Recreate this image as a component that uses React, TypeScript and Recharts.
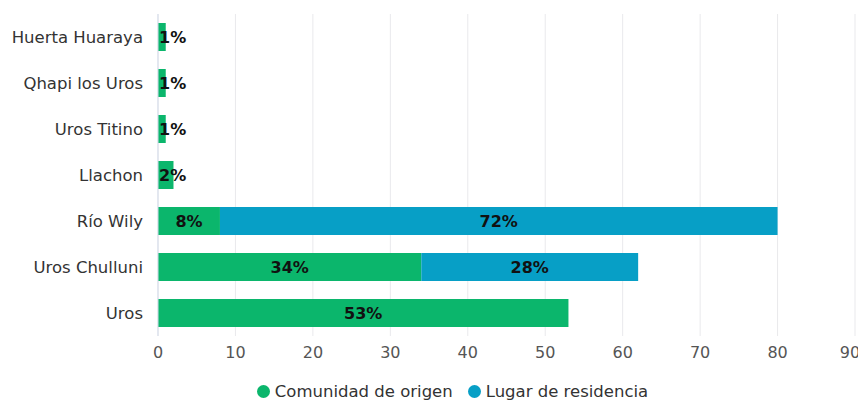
import { Bar, BarChart, CartesianGrid, LabelList, Legend, XAxis, YAxis } from 'recharts'

const comunidades = [
  'Huerta Huaraya',
  'Qhapi los Uros',
  'Uros Titino',
  'Llachon',
  'Río Wily',
  'Uros Chulluni',
  'Uros',
]
const origen = [1, 1, 1, 2, 8, 34, 53]
const residencia = [null, null, null, null, 72, 28, null]
const xTicks = [0, 10, 20, 30, 40, 50, 60, 70, 80, 90]

const VERDE = '#0bb66c'
const AZUL = '#079fc6'
const FONT = '"DejaVu Sans", Verdana, sans-serif'

const data = comunidades.map((nombre, i) => ({
  nombre,
  origen: origen[i],
  residencia: residencia[i],
}))

function EtiquetaBarra(props: any) {
  const { x, y, width, height, value } = props
  if (value == null || value === 0) return null
  const texto = `${value}%`
  const angosto = width < 30
  return (
    <text
      x={angosto ? x + 1 : x + width / 2}
      y={y + height / 2}
      textAnchor={angosto ? 'start' : 'middle'}
      dominantBaseline="central"
      fontFamily={FONT}
      fontSize={16}
      fontWeight="bold"
      fill="#111"
    >
      {texto}
    </text>
  )
}

function Leyenda() {
  const items = [
    { label: 'Comunidad de origen', color: VERDE },
    { label: 'Lugar de residencia', color: AZUL },
  ]
  return (
    <div
      style={{
        height: 20,
        display: 'flex',
        justifyContent: 'center',
        alignItems: 'center',
        gap: 15,
        paddingLeft: 50,
        fontFamily: FONT,
        fontSize: 16.5,
        color: '#333',
      }}
    >
      {items.map((it) => (
        <div key={it.label} style={{ display: 'flex', alignItems: 'center', gap: 5 }}>
          <span
            style={{
              width: 13,
              height: 13,
              borderRadius: '50%',
              background: it.color,
              display: 'inline-block',
            }}
          />
          <span>{it.label}</span>
        </div>
      ))}
    </div>
  )
}

export default function App() {
  return (
    <div style={{ position: 'absolute', left: 0, top: 0, background: '#fff' }}>
      <BarChart
        width={858}
        height={401}
        data={data}
        layout="vertical"
        margin={{ top: 14, right: 3, bottom: 0, left: 0 }}
      >
        <CartesianGrid horizontal={false} stroke="#e9e9ec" />
        <XAxis
          type="number"
          domain={[0, 90]}
          ticks={xTicks}
          height={45}
          axisLine={false}
          tickLine={false}
          tickMargin={5}
          tick={{ fontSize: 16, fill: '#555', fontFamily: FONT }}
        />
        <YAxis
          type="category"
          dataKey="nombre"
          width={158}
          axisLine={{ stroke: '#d3dbea' }}
          tickLine={false}
          tickMargin={9}
          tick={{ fontSize: 16.5, fill: '#333', fontFamily: FONT }}
        />
        <Legend verticalAlign="bottom" content={<Leyenda />} />
        <Bar dataKey="origen" stackId="a" fill={VERDE} barSize={28} isAnimationActive={false}>
          <LabelList dataKey="origen" content={<EtiquetaBarra />} />
        </Bar>
        <Bar dataKey="residencia" stackId="a" fill={AZUL} barSize={28} isAnimationActive={false}>
          <LabelList dataKey="residencia" content={<EtiquetaBarra />} />
        </Bar>
      </BarChart>
    </div>
  )
}
